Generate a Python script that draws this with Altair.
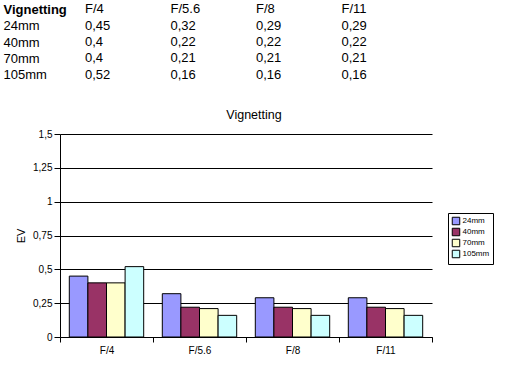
import altair as alt
import pandas as pd

focals = ["24mm", "40mm", "70mm", "105mm"]
apertures = ["F/4", "F/5.6", "F/8", "F/11"]
v24 = [0.45, 0.32, 0.29, 0.29]
v40 = [0.4, 0.22, 0.22, 0.22]
v70 = [0.4, 0.21, 0.21, 0.21]
v105 = [0.52, 0.16, 0.16, 0.16]
colors = ["#9999FF", "#993366", "#FFFFCC", "#CCFFFF"]
y_ticks = [0, 0.25, 0.5, 0.75, 1, 1.25, 1.5]
table_corner = "Vignetting"

series = [v24, v40, v70, v105]
FONT = "Liberation Sans"

# bar data
rows = []
for f, vals in zip(focals, series):
    for a, v in zip(apertures, vals):
        rows.append({"focal": f, "aperture": a, "ev": v})
df = pd.DataFrame(rows)

# table data (row labels come from the y axis, cells are text marks)
row_names = [table_corner] + focals
cells = []
for c, t in enumerate(apertures, start=1):
    cells.append({"rowname": table_corner, "col": c, "text": t})
for f, vals in zip(focals, series):
    for c, v in enumerate(vals, start=1):
        cells.append({"rowname": f, "col": c, "text": str(v).replace(".", ",")})
tdf = pd.DataFrame(cells)

table = alt.Chart(tdf).mark_text(
    align="left", baseline="middle", font=FONT, fontSize=13, color="black", dx=25
).encode(
    x=alt.X("col:Q", scale=alt.Scale(domain=[1, 4]), axis=None),
    y=alt.Y("rowname:N", sort=row_names,
            scale=alt.Scale(paddingInner=0, paddingOuter=0),
            axis=alt.Axis(title=None, domain=False, ticks=False, grid=False,
                          labelAlign="left", labelBaseline="middle", labelPadding=57,
                          labelFont=FONT, labelFontSize=13, labelColor="black",
                          labelFontWeight={"expr": "datum.value == 'Vignetting' ? 'bold' : 'normal'"})),
    text="text:N",
).properties(width=256.5, height=82)

bars = alt.Chart(df).mark_bar(stroke="black", strokeWidth=1).encode(
    x=alt.X("aperture:N", sort=apertures,
            scale=alt.Scale(paddingInner=0, paddingOuter=0),
            axis=alt.Axis(title=None, tickBand="extent", labelAngle=0,
                          domainColor="black", tickColor="black", tickSize=5,
                          labelFont=FONT, labelFontSize=10, labelColor="black",
                          labelPadding=3, grid=False)),
    xOffset=alt.XOffset("focal:N", sort=focals,
                        scale=alt.Scale(paddingInner=0, paddingOuter=0.5)),
    y=alt.Y("ev:Q", scale=alt.Scale(domain=[0, 1.5]),
            axis=alt.Axis(values=y_ticks, title="EV",
                          labelExpr="replace(format(datum.value, '~g'), '.', ',')",
                          grid=True, gridColor="black", gridOpacity=1, gridWidth=1,
                          domainColor="black", tickColor="black", tickSize=6,
                          labelFont=FONT, labelFontSize=10, labelColor="black",
                          labelPadding=2, titleFont=FONT, titleFontSize=11,
                          titleFontWeight="normal", titleColor="black", titlePadding=6)),
    color=alt.Color("focal:N", sort=focals,
                    scale=alt.Scale(domain=focals, range=colors),
                    legend=alt.Legend(title=None, orient="none", legendX=388, legendY=212,
                                      symbolType="square", symbolSize=56,
                                      symbolStrokeColor="black", symbolStrokeWidth=1,
                                      symbolOpacity=1,
                                      labelFont=FONT, labelFontSize=8, labelColor="black",
                                      strokeColor="black", fillColor="white",
                                      padding=3.5, rowPadding=-3, labelOffset=2)),
).properties(
    width=372, height=203,
    title=alt.TitleParams("Vignetting", font=FONT, fontSize=12.5, fontWeight="normal",
                          color="black", anchor="middle", dx=8, offset=8),
)

chart = alt.vconcat(table, bars, spacing=25).properties(
    padding={"left": 3, "top": 1, "right": 0, "bottom": 0},
    background="white",
).configure_view(strokeWidth=0, strokeOpacity=0)

chart.save("out.html", embed_options={"renderer": "svg", "actions": False})
